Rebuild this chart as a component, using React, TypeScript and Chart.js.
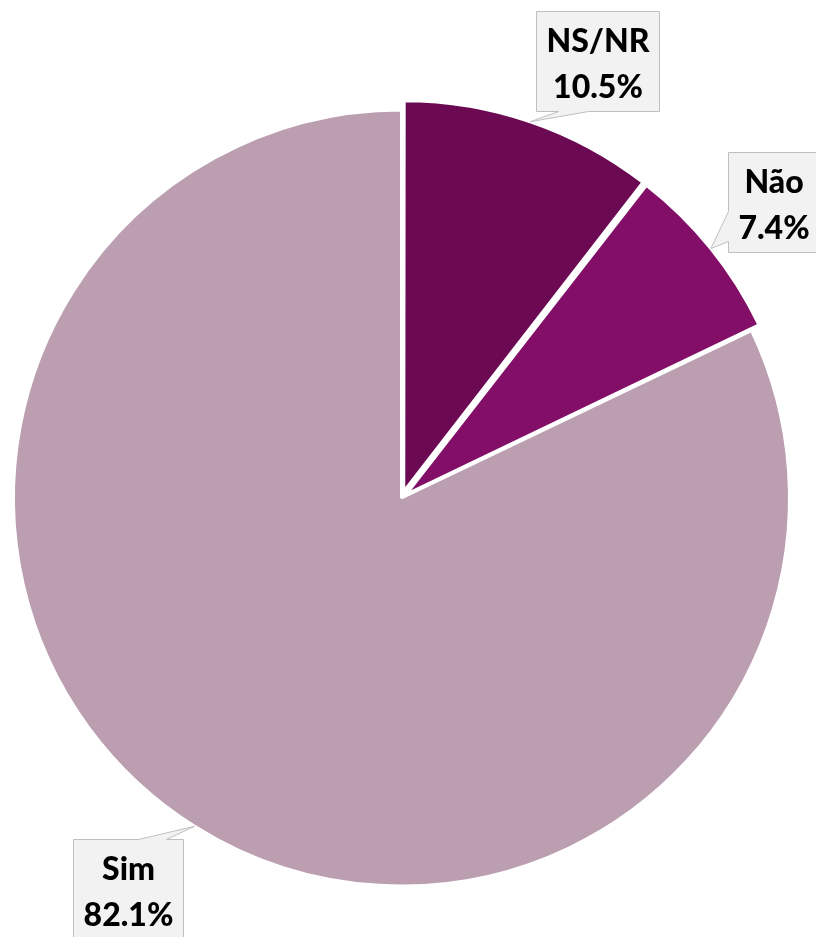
import React, { useEffect, useRef } from "react";
import { Chart, registerables } from "chart.js";

Chart.register(...registerables);

// ---- data ----
const categories = ["NS/NR", "Não", "Sim"];
const values = [10.5, 7.4, 82.1];
const sliceColors = ["#6b0953", "#820e67", "#bb9fb1"];
const sliceOffsets = [28, 24, 0];

// callout placement relative to the tip point on each slice edge
type Placement = {
  side: "bottom" | "left" | "top";
  dx: number;
  dy: number;
  b1: number;
  b2: number;
};
const placements: Placement[] = [
  { side: "bottom", dx: 6, dy: -11, b1: 22, b2: 52 },
  { side: "left", dx: 17, dy: -97, b1: 59, b2: 89 },
  { side: "top", dx: -12, dy: 13, b1: 65, b2: 93 },
];

const FONT = "900 32px Lato";
const BOX_H = 100;
const PAD_X = 10;

const calloutPlugin = {
  id: "callouts",
  afterDatasetsDraw(chart: any) {
    const ctx: CanvasRenderingContext2D = chart.ctx;
    const meta = chart.getDatasetMeta(0);
    ctx.save();
    ctx.font = FONT;
    meta.data.forEach((arc: any, i: number) => {
      const p = arc.getProps(["x", "y", "startAngle", "endAngle", "outerRadius", "circumference"], true);
      const off = ((arc.options && arc.options.offset) || 0) / 4;
      const fix = 1 - Math.sin(Math.min(Math.PI, p.circumference || 0));
      const mid = (p.startAngle + p.endAngle) / 2;
      const r = p.outerRadius + off + off * fix;
      const tx = p.x + Math.cos(mid) * r;
      const ty = p.y + Math.sin(mid) * r;

      const line1 = categories[i];
      const line2 = values[i].toFixed(1) + "%";
      const w = Math.max(ctx.measureText(line1).width, ctx.measureText(line2).width) + PAD_X * 2;
      const pl = placements[i];
      let L = 0, T = 0;
      if (pl.side === "bottom") {
        L = tx + pl.dx;
        T = ty + pl.dy - BOX_H;
      } else if (pl.side === "left") {
        L = tx + pl.dx;
        T = ty + pl.dy;
      } else {
        L = tx + pl.dx - w;
        T = ty + pl.dy;
      }
      L = Math.round(L) + 0.5;
      T = Math.round(T) + 0.5;
      const R = L + Math.round(w);
      const B = T + BOX_H;

      ctx.beginPath();
      if (pl.side === "bottom") {
        ctx.moveTo(L, T);
        ctx.lineTo(R, T);
        ctx.lineTo(R, B);
        ctx.lineTo(L + pl.b2, B);
        ctx.lineTo(tx, ty);
        ctx.lineTo(L + pl.b1, B);
        ctx.lineTo(L, B);
      } else if (pl.side === "left") {
        ctx.moveTo(L, T);
        ctx.lineTo(R, T);
        ctx.lineTo(R, B);
        ctx.lineTo(L, B);
        ctx.lineTo(L, T + pl.b2);
        ctx.lineTo(tx, ty);
        ctx.lineTo(L, T + pl.b1);
      } else {
        ctx.moveTo(L, T);
        ctx.lineTo(L + pl.b1, T);
        ctx.lineTo(tx, ty);
        ctx.lineTo(L + pl.b2, T);
        ctx.lineTo(R, T);
        ctx.lineTo(R, B);
        ctx.lineTo(L, B);
      }
      ctx.closePath();
      ctx.fillStyle = "#f2f2f2";
      ctx.fill();
      ctx.lineWidth = 1;
      ctx.strokeStyle = "#bfbfbf";
      ctx.stroke();

      ctx.fillStyle = "#000000";
      ctx.textAlign = "center";
      ctx.textBaseline = "alphabetic";
      const cx = (L + R) / 2;
      ctx.fillText(line1, cx, T + 40);
      ctx.fillText(line2, cx, T + 86);
    });
    ctx.restore();
  },
};

export default function App() {
  const ref = useRef<HTMLCanvasElement | null>(null);
  useEffect(() => {
    if (!ref.current) return;
    const chart = new Chart(ref.current, {
      type: "pie",
      data: {
        labels: categories,
        datasets: [
          {
            data: values,
            backgroundColor: sliceColors,
            borderColor: "#ffffff",
            borderWidth: 3,
            offset: sliceOffsets,
            radius: 388,
          } as any,
        ],
      },
      options: {
        animation: false,
        responsive: true,
        maintainAspectRatio: false,
        layout: { padding: { left: 0, right: 13, top: 59, bottom: 0 } },
        plugins: {
          legend: { display: false },
          tooltip: { enabled: false },
        },
      },
      plugins: [calloutPlugin],
    });
    if ((document as any).fonts && (document as any).fonts.load) {
      (document as any).fonts.load(FONT).then(() => chart.draw()).catch(() => {});
    }
    return () => chart.destroy();
  }, []);
  return (
    <div style={{ position: "fixed", left: 0, top: 0, width: 816, height: 937, background: "#ffffff" }}>
      <canvas ref={ref} style={{ width: "100%", height: "100%" }} />
    </div>
  );
}
